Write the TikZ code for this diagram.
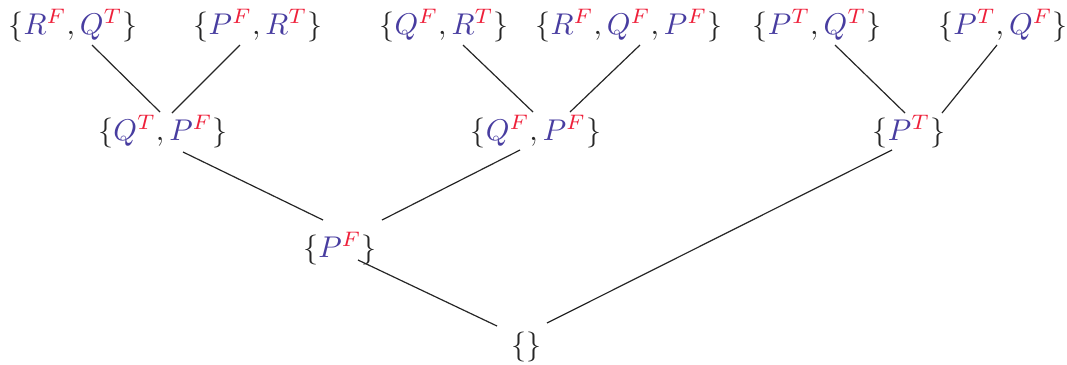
\documentclass[tikz,border=0pt]{standalone}
\usetikzlibrary{calc}
\definecolor{vblue}{RGB}{72,61,160}
\definecolor{vred}{RGB}{238,32,58}
\newcommand{\bl}[1]{\textcolor{vblue}{#1}}
\newcommand{\rd}[1]{\textcolor{vred}{#1}}
\begin{document}
\begin{tikzpicture}[x=0.3333pt,y=-0.3333pt,
  lbl/.style={anchor=base,inner sep=0pt,text=black!85},
  conn/.style={line width=0.4pt,draw=black!85}]
\useasboundingbox (0,0) rectangle (1067,364);
% top row
\node[lbl] (n1) at (73,34) {$\{\bl{R}^{\rd{F}}, \bl{Q}^{\rd{T}}\}$};
\node[lbl] (n2) at (258,34) {$\{\bl{P}^{\rd{F}}, \bl{R}^{\rd{T}}\}$};
\node[lbl] (n3) at (444,34) {$\{\bl{Q}^{\rd{F}}, \bl{R}^{\rd{T}}\}$};
\node[lbl] (n4) at (629,34) {$\{\bl{R}^{\rd{F}}, \bl{Q}^{\rd{F}}, \bl{P}^{\rd{F}}\}$};
\node[lbl] (n5) at (817,34) {$\{\bl{P}^{\rd{T}}, \bl{Q}^{\rd{T}}\}$};
\node[lbl] (n6) at (1003,34) {$\{\bl{P}^{\rd{T}}, \bl{Q}^{\rd{F}}\}$};
% middle row
\node[lbl] (A) at (163,140) {$\{\bl{Q}^{\rd{T}}, \bl{P}^{\rd{F}}\}$};
\node[lbl] (B) at (536,140) {$\{\bl{Q}^{\rd{F}}, \bl{P}^{\rd{F}}\}$};
\node[lbl] (C) at (909,140) {$\{\bl{P}^{\rd{T}}\}$};
% third row
\node[lbl] (PF) at (340,257) {$\{\bl{P}^{\rd{F}}\}$};
% root
\node[lbl] (E) at (526,354) {$\{\}$};
% connectors
\draw[conn] ($(n1.base)+(19,11)$) -- ($(A.base)+(-3,-28)$);
\draw[conn] ($(n2.base)+(-18,11)$) -- ($(A.base)+(9,-27)$);
\draw[conn] ($(n3.base)+(19,11)$) -- ($(B.base)+(-3,-28)$);
\draw[conn] ($(n4.base)+(11,11)$) -- ($(B.base)+(34,-28)$);
\draw[conn] ($(n5.base)+(18,11)$) -- ($(C.base)+(-4,-27)$);
\draw[conn] ($(n6.base)+(-6,11)$) -- ($(C.base)+(33,-27)$);
\draw[conn] ($(A.base)+(20,12)$) -- ($(PF.base)+(-17,-37)$);
\draw[conn] ($(B.base)+(-16,10)$) -- ($(PF.base)+(42,-37)$);
\draw[conn] ($(PF.base)+(18,3)$) -- ($(E.base)+(-29,-28)$);
\draw[conn] ($(C.base)+(-17,10)$) -- ($(E.base)+(21,-31)$);
\end{tikzpicture}
\end{document}
